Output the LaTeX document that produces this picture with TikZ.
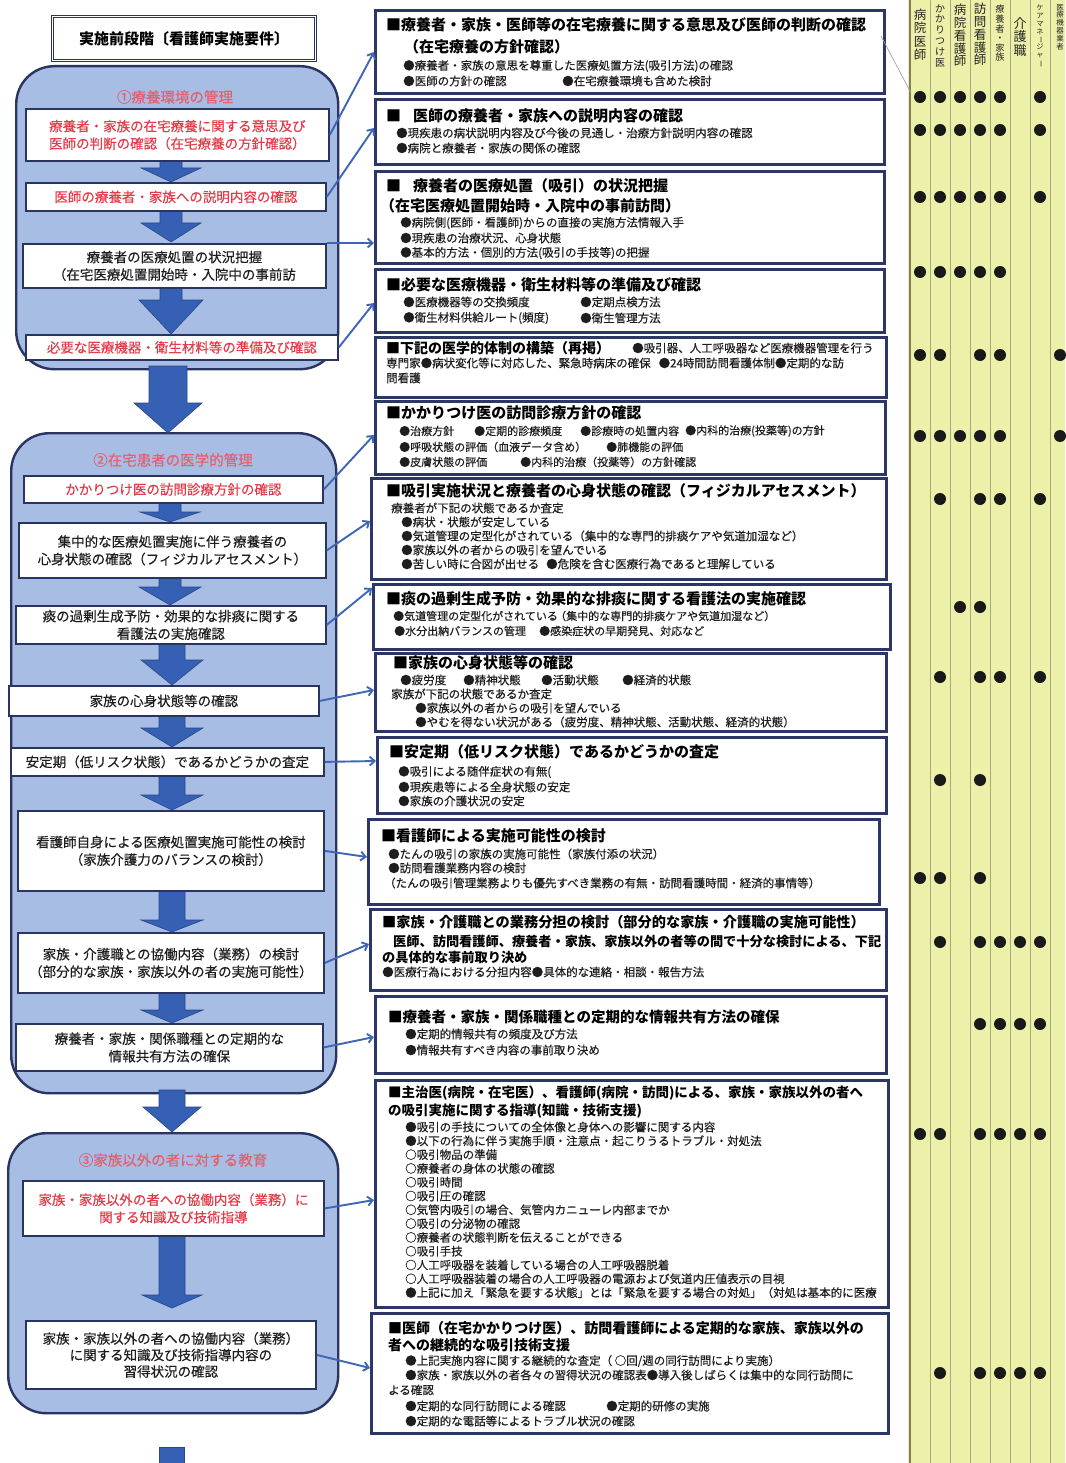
\documentclass[tikz,border=0pt]{standalone}
\usepackage{fontspec}
\usepackage{graphicx}
\setmainfont{Noto Sans CJK JP}
\newfontfamily\medfont{Noto Sans CJK JP}[FakeBold=0.35]
\usetikzlibrary{arrows.meta}
\definecolor{navy}{HTML}{2A3462}
\definecolor{rnavy}{HTML}{2C3767}
\definecolor{grpfill}{HTML}{A8BDE4}
\definecolor{barrow}{HTML}{3560B3}
\definecolor{conncol}{HTML}{3E65B6}
\definecolor{redtxt}{HTML}{E23C4A}
\definecolor{grptitle}{HTML}{E3606E}
\definecolor{panel}{HTML}{EDF0A9}
\definecolor{panelline}{HTML}{A6AA7C}
\definecolor{panelborder}{HTML}{7D8160}
\definecolor{bodytxt}{HTML}{1E1E1E}
\newcommand\blockarrow[6]{\path[barr] (#1-#5,#2) -- (#1+#5,#2) -- (#1+#5,#3) -- (#1+#6,#3) -- (#1,#4) -- (#1-#6,#3) -- (#1-#5,#3) -- cycle;}
\newcommand\vbarmark{\rotatebox[origin=c]{-90}{ー}}
\begin{document}
\begin{tikzpicture}[x=1pt,y=-1pt,
  grp/.style={draw=navy, line width=2.4pt, fill=grpfill, rounded corners=38pt, anchor=north west, inner sep=0pt},
  lbox/.style={draw=navy, line width=1.8pt, fill=white, anchor=north west, align=center, inner sep=0pt, font=\medfont\fontsize{13.5}{17.5}\selectfont, text=bodytxt},
  rbox/.style={draw=rnavy, line width=2.6pt, fill=white, anchor=north west, inner sep=0pt},
  gt/.style={inner sep=0pt, text=grptitle, font=\medfont\fontsize{14.5}{14.5}\selectfont},
  hd/.style={anchor=west, inner sep=0pt, font=\fontsize{15}{15}\selectfont\bfseries},
  hds/.style={anchor=west, inner sep=0pt, font=\fontsize{#1}{#1}\selectfont\bfseries},
  bd/.style={anchor=west, inner sep=0pt, text=bodytxt, font=\medfont\fontsize{11.5}{11.5}\selectfont},
  bds/.style={anchor=west, inner sep=0pt, text=bodytxt, font=\medfont\fontsize{#1}{#1}\selectfont},
  conn/.style={draw=conncol, line width=1.9pt, -{Straight Barb[length=5pt,width=9pt]}},
  barr/.style={fill=barrow, draw=barrow!75!black, line width=0.6pt},
  vh/.style={anchor=north, align=center, inner sep=0pt, text=black!85},
  dot/.style={circle, fill=black!90, inner sep=0pt, minimum size=12pt}
]
\useasboundingbox (0,0) rectangle (1065,1463);
\fill[white] (0,0) rectangle (1065,1463);

% ---------- right panel ----------
\fill[panel] (908,0) rectangle (1065,1463);
\foreach \x in {930,950,...,1050} \draw[panelline, line width=0.8pt] (\x,0) -- (\x,1463);
\draw[panelborder, line width=1.6pt] (910,0) -- (910,1463);
\node[vh, font=\fontsize{12.5}{13.3}\selectfont] (h1) at (920,9) {病\\院\\医\\師};
\node[vh, font=\fontsize{10}{10.8}\selectfont] (h2) at (940,4) {か\\か\\り\\つ\\け\\医};
\node[vh, font=\fontsize{12.5}{12.8}\selectfont] (h3) at (960,4) {病\\院\\看\\護\\師};
\node[vh, font=\fontsize{12.5}{12.8}\selectfont] (h4) at (980,3) {訪\\問\\看\\護\\師};
\node[vh, font=\fontsize{9.2}{9.6}\selectfont] (h5) at (1000,5) {療\\養\\者\\・\\家\\族};
\node[vh, font=\fontsize{13}{13.6}\selectfont] (h6) at (1020,17) {介\\護\\職};
\node[vh, font=\fontsize{7.2}{7.8}\selectfont] (h7) at (1040,5) {ケ\\ア\\マ\\ネ\\\vbarmark\\ジ\\ャ\\\vbarmark};
\node[vh, font=\fontsize{7.5}{7.8}\selectfont] (h8) at (1060,4) {医\\療\\機\\器\\業\\者};
\foreach \y/\cols in {97/{1,2,3,4,5,7}, 130/{1,2,3,4,5,7}, 197/{1,2,3,4,5,7}, 272/{1,2,3,4,5},
  355/{1,2,4,5,8}, 436/{1,2,3,4,5,8}, 499/{2,4,5,7}, 607/{3,4}, 677/{2,4,5,7}, 780/{2,4},
  878/{1,2,4}, 942/{2,4,5,6,7}, 1024/{4,5,6,7}, 1134/{1,2,4,5,6,7}, 1373/{2,4,5,6,7}}
  \foreach \c in \cols \node[dot] (d\y-\c) at (900+20*\c,\y) {};

% ---------- left column ----------
\node[draw=navy, line width=1pt, double, double distance=1.8pt, fill=white, anchor=north west,
  minimum width=263pt, minimum height=44pt, inner sep=0pt, font=\fontsize{15}{15}\selectfont\bfseries] (title) at (52,16) {実施前段階〔看護師実施要件〕};

\node[grp, minimum width=322pt, minimum height=303pt] (g1) at (15,65) {};
\node[grp, minimum width=325pt, minimum height=660pt] (g2) at (10,432) {};
\node[grp, minimum width=330pt, minimum height=280pt] (g3) at (7,1132) {};

\node[gt] (g1t) at (175,97) {①療養環境の管理};
\node[gt] (g2t) at (173,460) {②在宅患者の医学的管理};
\node[gt] (g3t) at (173,1160) {③家族以外の者に対する教育};

% block arrows
\blockarrow{171}{160}{168}{182}{11}{30}
\blockarrow{171}{210}{223}{242}{11}{30}
\blockarrow{171}{287}{300}{334}{11}{32}
\blockarrow{168}{366}{403}{433}{19}{34}
\blockarrow{170}{502}{512}{522}{11}{30}
\blockarrow{170}{577}{587}{605}{11}{31}
\blockarrow{172}{643}{660}{685}{13}{31}
\blockarrow{172}{715}{728}{747}{13}{31}
\blockarrow{172}{775}{795}{810}{13}{31}
\blockarrow{172}{890}{920}{932}{13}{31}
\blockarrow{172}{992}{1010}{1023}{13}{31}
\blockarrow{172}{1090}{1107}{1132}{13}{29}
\blockarrow{172}{1235}{1295}{1308}{13}{30}
\path[barr] (159,1447) rectangle (184,1463);

\node[lbox, minimum width=303pt, minimum height=52pt, text=redtxt] (b1a) at (25,108) {療養者・家族の在宅療養に関する意思及び\\医師の判断の確認（在宅療養の方針確認）};
\node[lbox, minimum width=300pt, minimum height=28pt, text=redtxt] (b1b) at (25,182) {医師の療養者・家族への説明内容の確認};
\node[lbox, minimum width=303pt, minimum height=44pt] (b1c) at (22,243) {療養者の医療処置の状況把握\\（在宅医療処置開始時・入院中の事前訪};
\node[lbox, minimum width=312pt, minimum height=25pt, text=redtxt] (b1d) at (25,334) {必要な医療機器・衛生材料等の準備及び確認};

\node[lbox, minimum width=299pt, minimum height=27pt, text=redtxt] (b2a) at (23,475) {かかりつけ医の訪問診療方針の確認};
\node[lbox, minimum width=307pt, minimum height=55pt] (b2b) at (18,522) {集中的な医療処置実施に伴う療養者の\\心身状態の確認（フィジカルアセスメント）};
\node[lbox, minimum width=310pt, minimum height=38pt] (b2c) at (15,605) {痰の過剰生成予防・効果的な排痰に関する\\看護法の実施確認};
\node[lbox, minimum width=310pt, minimum height=30pt] (b2d) at (8,685) {家族の心身状態等の確認};
\node[lbox, minimum width=313pt, minimum height=28pt] (b2e) at (10,747) {安定期（低リスク状態）であるかどうかの査定};
\node[lbox, minimum width=306pt, minimum height=80pt] (b2f) at (17,810) {看護師自身による医療処置実施可能性の検討\\（家族介護力のバランスの検討）};
\node[lbox, minimum width=306pt, minimum height=60pt] (b2g) at (17,932) {家族・介護職との協働内容（業務）の検討\\（部分的な家族・家族以外の者の実施可能性）};
\node[lbox, minimum width=307pt, minimum height=47pt] (b2h) at (15,1023) {療養者・家族・関係職種との定期的な\\情報共有方法の確保};

\node[lbox, minimum width=301pt, minimum height=55pt, text=redtxt] (b3a) at (22,1180) {家族・家族以外の者への協働内容（業務）に\\関する知識及び技術指導};
\node[lbox, minimum width=290pt, minimum height=68pt, font=\medfont\fontsize{13.5}{16.5}\selectfont] (b3b) at (25,1320) {家族・家族以外の者への協働内容（業務）\\に関する知識及び技術指導内容の\\習得状況の確認};

% ---------- right boxes ----------
\node[rbox, minimum width=509pt, minimum height=83pt] (r1) at (374,9) {};
\node[rbox, minimum width=509pt, minimum height=65pt] (r2) at (374,98) {};
\node[rbox, minimum width=509pt, minimum height=92pt] (r3) at (374,170) {};
\node[rbox, minimum width=509pt, minimum height=63pt] (r4) at (374,268) {};
\node[rbox, minimum width=511pt, minimum height=60pt] (r5) at (374,336) {};
\node[rbox, minimum width=510pt, minimum height=73pt] (r6) at (374,400) {};
\node[rbox, minimum width=515pt, minimum height=101pt] (r7) at (370,477) {};
\node[rbox, minimum width=517pt, minimum height=65pt] (r8) at (372,583) {};
\node[rbox, minimum width=511pt, minimum height=78pt] (r9) at (374,652) {};
\node[rbox, minimum width=509pt, minimum height=76pt] (r10) at (376,736) {};
\node[rbox, minimum width=511pt, minimum height=85pt] (r11) at (367,818) {};
\node[rbox, minimum width=516pt, minimum height=81pt] (r12) at (369,908) {};
\node[rbox, minimum width=511pt, minimum height=77pt] (r13) at (374,995) {};
\node[rbox, minimum width=513pt, minimum height=227pt] (r14) at (374,1079) {};
\node[rbox, minimum width=517pt, minimum height=120pt] (r15) at (370,1312) {};

% R1
\node[hd] (r1h1) at (386,25) {■療養者・家族・医師等の在宅療養に関する意思及び医師の判断の確認};
\node[hd] (r1h2) at (404,47) {（在宅療養の方針確認）};
\node[bd] (r1b1) at (403,66) {●療養者・家族の意思を尊重した医療処置方法(吸引方法)の確認};
\node[bd] (r1b2) at (403,81) {●医師の方針の確認};
\node[bd] (r1b3) at (562,81) {●在宅療養環境も含めた検討};
% R2
\node[hd] (r2h) at (386,116) {■\hspace{12pt}医師の療養者・家族への説明内容の確認};
\node[bd] (r2b1) at (396,133) {●現疾患の病状説明内容及び今後の見通し・治療方針説明内容の確認};
\node[bd] (r2b2) at (396,148) {●病院と療養者・家族の関係の確認};
% R3
\node[hd] (r3h1) at (386,186) {■\hspace{12pt}療養者の医療処置（吸引）の状況把握};
\node[hd] (r3h2) at (380,206) {（在宅医療処置開始時・入院中の事前訪問）};
\node[bd] (r3b1) at (400,223) {●病院側(医師・看護師)からの直接の実施方法情報入手};
\node[bd] (r3b2) at (400,238) {●現疾患の治療状況、心身状態};
\node[bd] (r3b3) at (400,253) {●基本的方法・個別的方法(吸引の手技等)の把握};
% R4
\node[hd] (r4h) at (386,285) {■必要な医療機器・衛生材料等の準備及び確認};
\node[bd] (r4b1) at (403,302) {●医療機器等の交換頻度};
\node[bd] (r4b2) at (580,302) {●定期点検方法};
\node[bd] (r4b3) at (403,318) {●衛生材料供給ルート(頻度)};
\node[bd] (r4b4) at (580,318) {●衛生管理方法};
% R5
\node[hds=14] (r5h) at (386,348) {■下記の医学的体制の構築（再掲）};
\node[bd] (r5b1) at (632,348) {●吸引器、人工呼吸器など医療機器管理を行う};
\node[bd] (r5b2) at (386,363) {専門家●病状変化等に対応した、緊急時病床の確保\hspace{8pt}●24時間訪問看護体制●定期的な訪};
\node[bd] (r5b3) at (386,378) {問看護};
% R6
\node[hd] (r6h) at (386,413) {■かかりつけ医の訪問診療方針の確認};
\node[bds=11] (r6b1) at (399,431) {●治療方針};
\node[bds=11] (r6b2) at (474,431) {●定期的診療頻度};
\node[bds=11] (r6b3) at (580,431) {●診療時の処置内容};
\node[bds=11] (r6b4) at (685,431) {●内科的治療(投薬等)の方針};
\node[bds=11] (r6b5) at (399,447) {●呼吸状態の評価（血液データ含め）};
\node[bds=11] (r6b6) at (606,447) {●肺機能の評価};
\node[bds=11] (r6b7) at (399,462) {●皮膚状態の評価};
\node[bds=11] (r6b8) at (520,462) {●内科的治療（投薬等）の方針確認};
% R7
\node[hd] (r7h) at (386,491) {■吸引実施状況と療養者の心身状態の確認（フィジカルアセスメント）};
\node[bd] (r7b0) at (391,508) {療養者が下記の状態であるか査定};
\node[bd] (r7b1) at (401,522) {●病状・状態が安定している};
\node[bd] (r7b2) at (401,536) {●気道管理の定型化がされている（集中的な専門的排痰ケアや気道加湿など）};
\node[bd] (r7b3) at (401,550) {●家族以外の者からの吸引を望んでいる};
\node[bd] (r7b4) at (401,564) {●苦しい時に合図が出せる};
\node[bd] (r7b5) at (546,564) {●危険を含む医療行為であると理解している};
% R8
\node[hd] (r8h) at (386,599) {■痰の過剰生成予防・効果的な排痰に関する看護法の実施確認};
\node[bds=11] (r8b1) at (393,616) {●気道管理の定型化がされている};
\node[bds=11] (r8b2) at (555,616) {（集中的な専門的排痰ケアや気道加湿など）};
\node[bds=11] (r8b3) at (394,631) {●水分出納バランスの管理};
\node[bds=11] (r8b4) at (539,631) {●感染症状の早期発見、対応など};
% R9
\node[hd] (r9h) at (393,663) {■家族の心身状態等の確認};
\node[bd] (r9b1) at (400,680) {●疲労度};
\node[bd] (r9b2) at (463,680) {●精神状態};
\node[bd] (r9b3) at (541,680) {●活動状態};
\node[bd] (r9b4) at (622,680) {●経済的状態};
\node[bd] (r9b5) at (391,694) {家族が下記の状態であるか査定};
\node[bd] (r9b6) at (415,708) {●家族以外の者からの吸引を望んでいる};
\node[bd] (r9b7) at (415,722) {●やむを得ない状況がある（疲労度、精神状態、活動状態、経済的状態）};
% R10
\node[hd] (r10h) at (389,752) {■安定期（低リスク状態）であるかどうかの査定};
\node[bd] (r10b1) at (398,772) {●吸引による随伴症状の有無(};
\node[bd] (r10b2) at (398,787) {●現疾患等による全身状態の安定};
\node[bd] (r10b3) at (398,801) {●家族の介護状況の安定};
% R11
\node[hd] (r11h) at (381,836) {■看護師による実施可能性の検討};
\node[bd] (r11b1) at (388,854) {●たんの吸引の家族の実施可能性（家族付添の状況）};
\node[bd] (r11b2) at (388,868) {●訪問看護業務内容の検討};
\node[bd] (r11b3) at (384,883) {（たんの吸引管理業務よりも優先すべき業務の有無・訪問看護時間・経済的事情等）};
% R12
\node[hds=14.2] (r12h) at (382,922) {■家族・介護職との業務分担の検討（部分的な家族・介護職の実施可能性）};
\node[hds=13.2] (r12b1) at (393,941) {医師、訪問看護師、療養者・家族、家族以外の者等の間で十分な検討による、下記};
\node[hds=13.2] (r12b2) at (382,957) {の具体的な事前取り決め};
\node[bd] (r12b3) at (382,972) {●医療行為における分担内容●具体的な連絡・相談・報告方法};
% R13
\node[hds=14.5] (r13h) at (388,1017) {■療養者・家族・関係職種との定期的な情報共有方法の確保};
\node[bd] (r13b1) at (405,1034) {●定期的情報共有の頻度及び方法};
\node[bd] (r13b2) at (405,1050) {●情報共有すべき内容の事前取り決め};
% R14
\node[hds=13.5] (r14h1) at (388,1093) {■主治医(病院・在宅医）、看護師(病院・訪問)による、家族・家族以外の者へ};
\node[hds=13.5] (r14h2) at (388,1111) {の吸引実施に関する指導(知識・技術支援)};
\foreach \t [count=\i] in {●吸引の手技についての全体像と身体への影響に関する内容, ●以下の行為に伴う実施手順・注意点・起こりうるトラブル・対処法, ○吸引物品の準備, ○療養者の身体の状態の確認, ○吸引時間, ○吸引圧の確認, ○気管内吸引の場合、気管内カニューレ内部までか, ○吸引の分泌物の確認, ○療養者の状態判断を伝えることができる, ○吸引手技, ○人工呼吸器を装着している場合の人工呼吸器脱着, ○人工呼吸器装着の場合の人工呼吸器の電源および気道内圧値表示の目視, ●上記に加え「緊急を要する状態」とは「緊急を要する場合の対処」（対処は基本的に医療}
  \node[bd] (r14b\i) at (405,{1127+13.8*(\i-1)}) {\t};
% R15
\node[hds=14] (r15h1) at (388,1328) {■医師（在宅かかりつけ医）、訪問看護師による定期的な家族、家族以外の};
\node[hds=14] (r15h2) at (388,1345) {者への継続的な吸引技術支援};
\node[bd] (r15b1) at (405,1361) {●上記実施内容に関する継続的な査定（ ○回/週の同行訪問により実施）};
\node[bd] (r15b2) at (405,1375) {●家族・家族以外の者各々の習得状況の確認表●導入後しばらくは集中的な同行訪問に};
\node[bd] (r15b3) at (388,1390) {よる確認};
\node[bd] (r15b4) at (405,1406) {●定期的な同行訪問による確認};
\node[bd] (r15b5) at (606,1406) {●定期的研修の実施};
\node[bd] (r15b6) at (405,1421) {●定期的な電話等によるトラブル状況の確認};

% ---------- connectors ----------
\draw[conn] (b1a.east) -- (r1.west |- 0,52);
\draw[conn] (b1b.east) -- (r2.west |- 0,128);
\draw[conn] (b1c.north east) -- (r3.west |- 0,243);
\draw[conn] (b1d.east) -- (r4.west |- 0,303);
\draw[conn] (b2a.east) -- (r6.west |- 0,435);
\draw[conn] (b2b.east) -- (r7.west |- 0,521);
\draw[conn] (b2c.east) -- (r8.west |- 0,588);
\draw[conn] (b2d.east) -- (r9.west |- 0,690);
\draw[conn] (b2e.east) -- (r10.west |- 0,761);
\draw[conn] (b2f.east) -- (r11.west |- 0,857);
\draw[conn] (b2g.east) -- (r12.west |- 0,944);
\draw[conn] (b2h.east) -- (r13.west |- 0,1037);
\draw[conn] (b3a.east) -- (r14.west |- 0,1200);
\draw[conn] (b3b.east) -- (r15.west |- 0,1368);

\coordinate (dl1) at (881,36);
\coordinate (dl2) at (911,93);
\draw[gray!75, line width=0.7pt] (dl1) -- (dl2);
\end{tikzpicture}
\end{document}
